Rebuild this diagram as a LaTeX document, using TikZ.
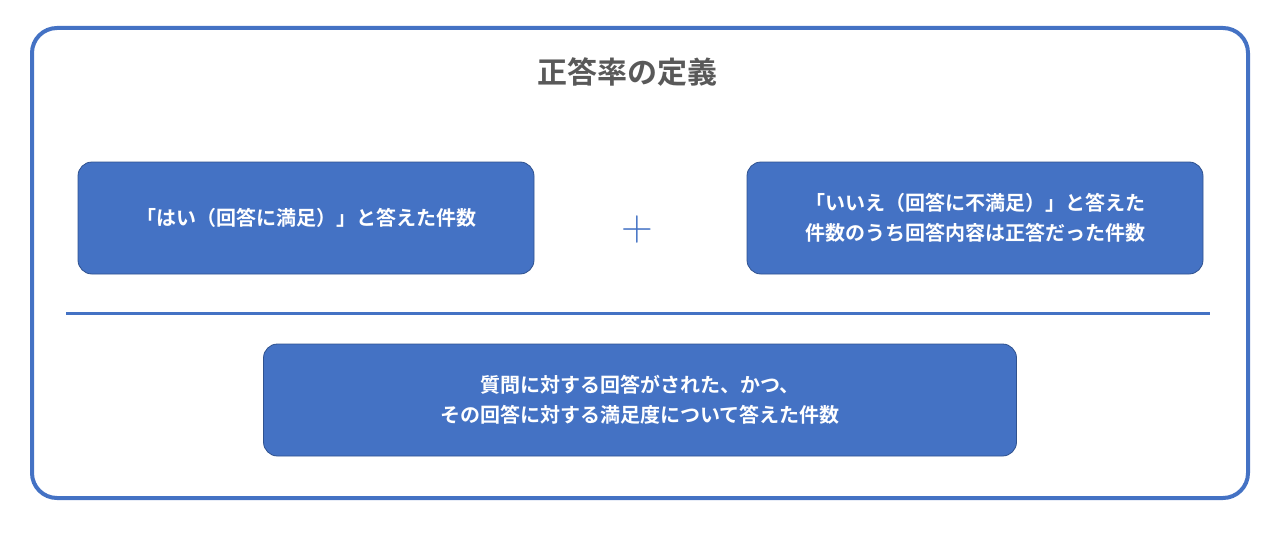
\documentclass[tikz,border=0pt]{standalone}
\usepackage{fontspec}
\newfontfamily\jp{Noto Sans CJK JP}[BoldFont={Noto Sans CJK JP Bold}]
\usetikzlibrary{positioning}
\definecolor{accent}{HTML}{4472C4}
\definecolor{edge}{HTML}{2F528F}
\definecolor{titlegray}{HTML}{595959}
\tikzset{
  termbox/.style={draw=edge, line width=0.8pt, fill=accent, rounded corners=14pt,
    minimum width=456pt, minimum height=112pt, text=white, align=center,
    font=\jp\bfseries\fontsize{20}{30}\selectfont},
}
\begin{document}
\begin{tikzpicture}[x=1pt,y=-1pt]
\useasboundingbox (0,0) rectangle (1280,535);
\draw[accent, line width=4pt, rounded corners=25pt] (32,28) rectangle (1248,498);
\node (title) at (627,72) [font=\jp\bfseries\fontsize{30}{36}\selectfont, text=titlegray] {正答率の定義};
\node (yes) at (306,218) [termbox] {「はい（回答に満足）」と答えた件数};
\node (no) at (975,218) [termbox] {「いいえ（回答に不満足）」と答えた\\件数のうち回答内容は正答だった件数};
\node (plus) at (637,230) [font=\fontsize{44}{44}\selectfont, text=accent] {+};
\coordinate (barL) at (66,313);
\coordinate (barR) at (1210,313);
\draw[accent, line width=3pt] (barL) -- (barR);
\node (all) at (640,400) [termbox, minimum width=753pt] {質問に対する回答がされた、かつ、\\その回答に対する満足度について答えた件数};
\end{tikzpicture}
\end{document}
